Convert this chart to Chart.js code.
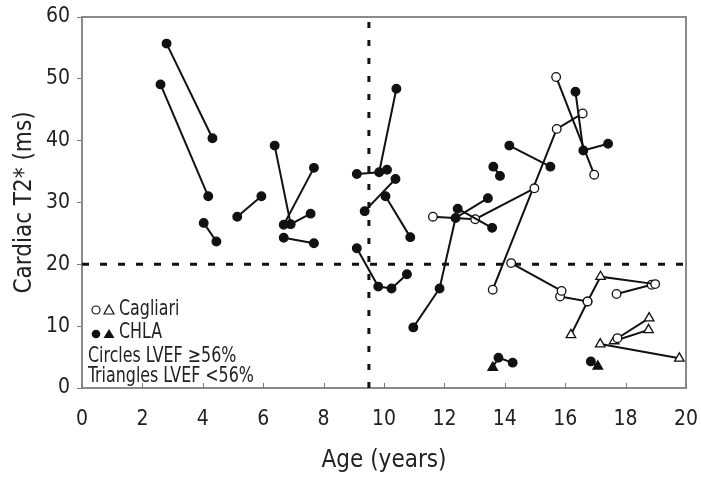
<!DOCTYPE html>
<html>
<head>
<meta charset="utf-8">
<script src="https://cdn.jsdelivr.net/npm/chart.js@4.4.0/dist/chart.umd.min.js"></script>
<style>
	html, body { margin: 0; padding: 0; background: #fff; }
	canvas { display: block; }
</style>
</head>
<body>
<canvas id="graficoT2" width="701" height="479"></canvas>
<script>
// tick labels
var xTicks = [0, 2, 4, 6, 8, 10, 12, 14, 16, 18, 20];
var yTicks = [0, 10, 20, 30, 40, 50, 60];

// cut-offs drawn as dashed lines
var cutoffAge = 9.5;
var cutoffT2 = 20;

// each track is one patient: [age, T2*, LVEF group] ; 'N' = LVEF >=56% (circle), 'L' = LVEF <56% (triangle)
var chlaTracks = [
	[[2.80, 55.7, 'N'], [4.32, 40.4, 'N']],
	[[2.60, 49.1, 'N'], [4.18, 31.0, 'N']],
	[[4.03, 26.7, 'N'], [4.45, 23.7, 'N']],
	[[5.14, 27.7, 'N'], [5.94, 31.0, 'N']],
	[[6.38, 39.2, 'N'], [6.91, 26.5, 'N'], [7.57, 28.2, 'N']],
	[[6.68, 26.4, 'N'], [7.68, 35.6, 'N']],
	[[6.68, 24.3, 'N'], [7.68, 23.4, 'N']],
	[[9.10, 34.6, 'N'], [9.84, 34.9, 'N'], [10.41, 48.4, 'N']],
	[[10.10, 35.3, 'N']],
	[[9.36, 28.6, 'N'], [10.38, 33.8, 'N']],
	[[10.05, 31.0, 'N'], [10.87, 24.4, 'N']],
	[[9.10, 22.6, 'N'], [9.81, 16.4, 'N'], [10.25, 16.1, 'N'], [10.76, 18.4, 'N']],
	[[10.97, 9.8, 'N'], [11.84, 16.1, 'N'], [12.37, 27.5, 'N'], [13.44, 30.7, 'N']],
	[[12.44, 29.0, 'N'], [13.58, 25.9, 'N']],
	[[13.62, 35.8, 'N'], [13.84, 34.3, 'N']],
	[[14.15, 39.2, 'N'], [15.51, 35.8, 'N']],
	[[16.34, 47.9, 'N'], [16.60, 38.4, 'N'], [17.42, 39.5, 'N']],
	[[13.60, 3.3, 'L'], [13.79, 4.9, 'N'], [14.26, 4.1, 'N']],
	[[16.85, 4.3, 'N'], [17.08, 3.5, 'L']]
];

var cagliariTracks = [
	[[11.62, 27.7, 'N'], [13.02, 27.3, 'N'], [14.98, 32.3, 'N']],
	[[13.60, 15.9, 'N'], [15.72, 41.9, 'N'], [16.58, 44.4, 'N']],
	[[15.70, 50.3, 'N'], [16.96, 34.5, 'N']],
	[[14.21, 20.2, 'N'], [15.88, 15.7, 'N']],
	[[15.83, 14.8, 'N'], [16.74, 14.0, 'N'], [17.17, 18.0, 'L'], [18.98, 16.8, 'N']],
	[[16.19, 8.6, 'L'], [16.74, 14.0, 'N']],
	[[17.70, 15.2, 'N'], [18.86, 16.7, 'N']],
	[[17.73, 8.05, 'N'], [18.78, 11.3, 'L']],
	[[17.62, 7.6, 'L'], [18.76, 9.4, 'L']],
	[[17.16, 7.1, 'L'], [19.78, 4.8, 'L']]
];

var FONTE = '"DejaVu Sans Condensed", "Liberation Sans", sans-serif';

function montarDataset(track, aberto) {
	return {
		data: track.map(function(p) { return { x: p[0], y: p[1] }; }),
		showLine: true,
		borderColor: '#111',
		borderWidth: 2,
		pointStyle: track.map(function(p) { return p[2] === 'L' ? 'triangle' : 'circle'; }),
		pointRadius: track.map(function(p) { return p[2] === 'L' ? 5.5 : 4.3; }),
		pointBackgroundColor: aberto ? '#fff' : '#111',
		pointBorderColor: '#111',
		pointBorderWidth: 1.3,
		order: 1
	};
}

var datasets = [];
chlaTracks.forEach(function(t) { datasets.push(montarDataset(t, false)); });
cagliariTracks.forEach(function(t) { datasets.push(montarDataset(t, true)); });

datasets.push({
	data: [{ x: xTicks[0], y: cutoffT2 }, { x: xTicks[xTicks.length - 1], y: cutoffT2 }],
	showLine: true, borderColor: '#111', borderWidth: 3, borderDash: [7, 11],
	pointRadius: 0, order: 50
});
datasets.push({
	data: [{ x: cutoffAge, y: yTicks[0] }, { x: cutoffAge, y: yTicks[yTicks.length - 1] }],
	showLine: true, borderColor: '#111', borderWidth: 3, borderDash: [6, 12],
	pointRadius: 0, order: 50
});

// frame, inner x ticks and the text legend
var moldura = {
	id: 'moldura',
	beforeDatasetsDraw: function(chart) {
		var ctx = chart.ctx, a = chart.chartArea, sx = chart.scales.x;
		ctx.save();
		ctx.strokeStyle = '#8a8a8a';
		ctx.lineWidth = 2;
		ctx.strokeRect(a.left, a.top, a.right - a.left, a.bottom - a.top);
		ctx.lineWidth = 1;
		ctx.strokeStyle = '#777';
		xTicks.forEach(function(v) {
			var px = Math.round(sx.getPixelForValue(v)) + 0.5;
			ctx.beginPath();
			ctx.moveTo(px, a.bottom);
			ctx.lineTo(px, a.bottom - 5);
			ctx.stroke();
		});
		ctx.restore();
	},
	afterDraw: function(chart) {
		var ctx = chart.ctx;
		ctx.save();
		ctx.strokeStyle = '#111';
		ctx.lineWidth = 1.2;
		// symbols
		ctx.fillStyle = '#fff';
		ctx.beginPath(); ctx.arc(96, 310, 4, 0, Math.PI * 2); ctx.fill(); ctx.stroke();
		ctx.beginPath(); ctx.moveTo(109, 305); ctx.lineTo(114, 314); ctx.lineTo(104, 314); ctx.closePath(); ctx.fill(); ctx.stroke();
		ctx.fillStyle = '#111';
		ctx.beginPath(); ctx.arc(96, 334, 4.3, 0, Math.PI * 2); ctx.fill();
		ctx.beginPath(); ctx.moveTo(109, 329); ctx.lineTo(114.5, 338); ctx.lineTo(103.5, 338); ctx.closePath(); ctx.fill();
		// texts (narrowed to match the condensed face of the original)
		ctx.fillStyle = '#222';
		ctx.textBaseline = 'middle';
		ctx.textAlign = 'left';
		ctx.font = '21px ' + FONTE;
		ctx.scale(0.84, 1);
		ctx.fillText('Cagliari', 119 / 0.84, 310);
		ctx.fillText('CHLA', 119 / 0.84, 333);
		ctx.fillText('Circles LVEF \u226556%', 88 / 0.84, 357);
		ctx.fillText('Triangles LVEF <56%', 88 / 0.84, 377);
		ctx.restore();
	}
};

var grafico = new Chart(document.getElementById('graficoT2').getContext('2d'), {
	type: 'scatter',
	data: { datasets: datasets },
	plugins: [moldura],
	options: {
		responsive: false,
		animation: false,
		layout: { padding: { top: 17, right: 15, left: 0, bottom: 0 } },
		plugins: { legend: { display: false }, tooltip: { enabled: false } },
		scales: {
			x: {
				type: 'linear', min: 0, max: 20,
				afterBuildTicks: function(s) { s.ticks = xTicks.map(function(v) { return { value: v }; }); },
				ticks: { color: '#222', font: { family: FONTE, size: 21 }, padding: 19, maxRotation: 0 },
				grid: { display: false, drawTicks: false },
				border: { display: false },
				title: { display: true, text: 'Age (years)', color: '#222', font: { family: FONTE, size: 24 }, padding: { top: 0, bottom: 4 } },
				afterFit: function(s) { s.height = 91; s.paddingRight = 0; s.paddingLeft = 0; }
			},
			y: {
				min: 0, max: 60,
				afterBuildTicks: function(s) { s.ticks = yTicks.map(function(v) { return { value: v }; }); },
				ticks: { color: '#222', font: { family: FONTE, size: 21 }, padding: 7 },
				grid: { drawOnChartArea: false, tickLength: 5, color: '#777' },
				border: { display: false },
				title: { display: true, text: 'Cardiac T2* (ms)', color: '#222', font: { family: FONTE, size: 24 }, padding: { top: 10, bottom: 0 } },
				afterFit: function(s) { s.width = 82; s.paddingTop = 0; s.paddingBottom = 0; }
			}
		}
	}
});
</script>
</body>
</html>
